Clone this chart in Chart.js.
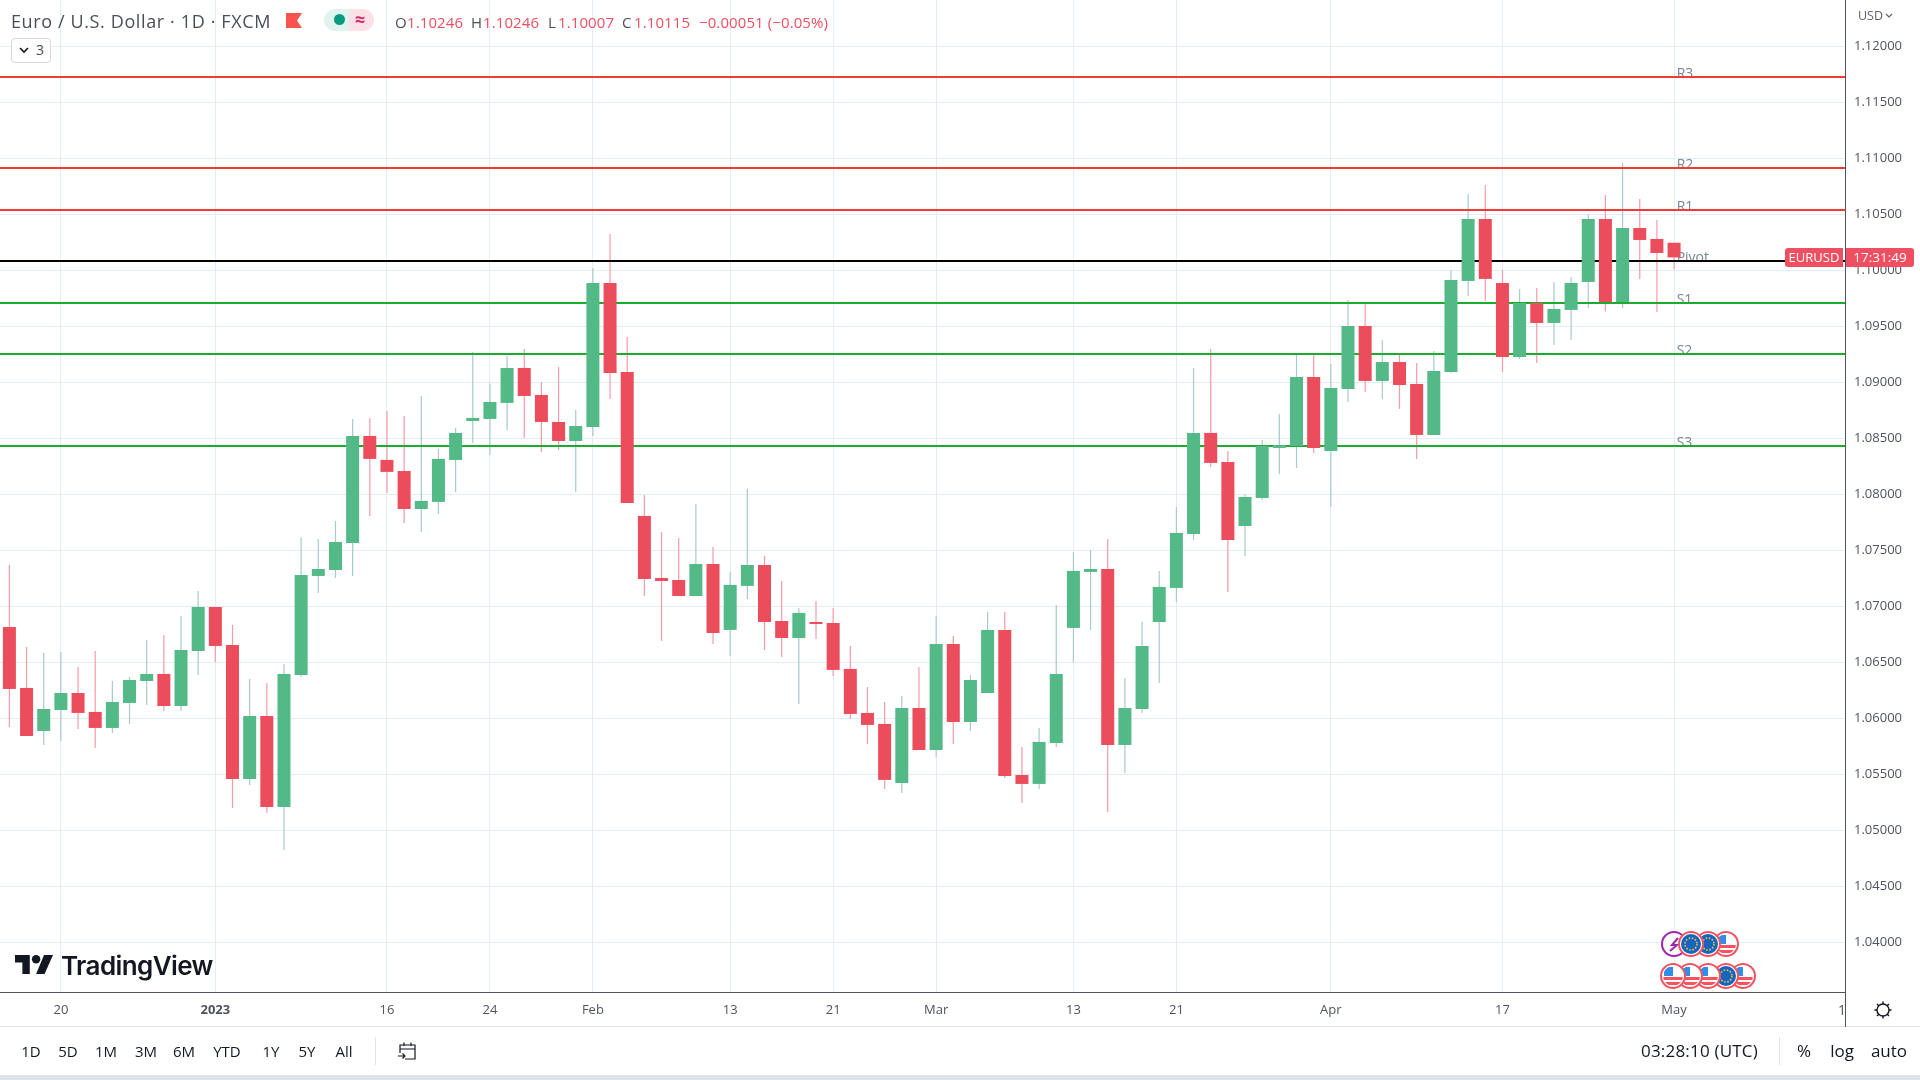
<!DOCTYPE html>
<html>
<head>
<meta charset="utf-8">
<title>EURUSD</title>
<script src="https://cdn.jsdelivr.net/npm/chart.js@4"></script>
<style>
  html, body { margin: 0; padding: 0; background: #fff; overflow: hidden; }
  body { width: 1920px; height: 1080px; position: relative; font-family: "Open Sans", sans-serif; color: #131722; }
  canvas { position: absolute; left: 0; top: 0; }
  .t { position: absolute; white-space: nowrap; line-height: 20px; }
  .c { transform: translateX(-50%); }
  .box { position: absolute; }
  svg { position: absolute; overflow: visible; }
</style>
</head>
<body>
<canvas id="chart" width="1920" height="1026"></canvas>

<!-- legend row -->
<div class="t" style="left:11px;top:11px;font-size:18px;color:#4a4e59;letter-spacing:0.62px">Euro / U.S. Dollar · 1D · FXCM</div>
<svg style="left:286px;top:13px" width="16" height="15"><path d="M0 0H16L11 7.5L16 15H0Z" fill="#f9524f"/></svg>
<div class="box" style="left:324px;top:9px;width:25px;height:22px;background:#e0f3ef;border-radius:11px 0 0 11px"></div>
<div class="box" style="left:349px;top:9px;width:25px;height:22px;background:#fce0e8;border-radius:0 11px 11px 0"></div>
<div class="box" style="left:334px;top:14px;width:11px;height:11px;background:#089981;border-radius:50%"></div>
<div class="t c" style="left:360px;top:9px;font-size:18px;font-weight:700;color:#cc2f6a">≈</div>

<div id="ohlc"></div>

<div class="box" style="left:11px;top:38px;width:38px;height:23px;border:1px solid #d6d8de;border-radius:4px;background:#fff"></div>
<svg style="left:19px;top:47px" width="10" height="7"><path d="M1 1L5 5L9 1" fill="none" stroke="#131722" stroke-width="1.6"/></svg>
<div class="t" style="left:36px;top:40px;font-size:14px;color:#4a4e59">3</div>

<!-- price scale extras -->
<div class="t" style="left:1858px;top:6px;font-size:12.5px;color:#5d606b">USD</div>
<svg style="left:1885px;top:13px" width="8" height="5"><path d="M1 1L4 4L7 1" fill="none" stroke="#5d606b" stroke-width="1.2"/></svg>

<!-- pane borders -->
<div class="box" style="left:1845px;top:0;width:1px;height:1026px;background:#50535e"></div>
<div class="box" style="left:0;top:992px;width:1845px;height:1px;background:#50535e"></div>
<div class="box" style="left:0;top:1026px;width:1920px;height:1px;background:#e0e3eb"></div>
<div class="box" style="left:1845px;top:1026px;width:1px;height:1px;background:#50535e"></div>

<!-- last price label -->
<div class="box" style="left:1785px;top:248px;width:58px;height:19px;background:#ef4f60;border-radius:3px 0 0 3px"></div>
<div class="t c" style="left:1814px;top:248px;font-size:13px;line-height:19px;color:#fff">EURUSD</div>
<div class="box" style="left:1846px;top:248px;width:68px;height:19px;background:#ef4f60;border-radius:0 3px 3px 0"></div>
<div class="t c" style="left:1880px;top:248px;font-size:13.5px;line-height:19px;color:#fff">17:31:49</div>

<!-- clipped time tick at the pane edge -->
<div class="t" style="left:1838px;top:1000px;font-size:14px;color:#50535e">1</div>

<!-- gear -->
<svg style="left:1873px;top:1000px" width="20" height="20" viewBox="0 0 20 20">
  <circle cx="10" cy="10" r="6" fill="none" stroke="#131722" stroke-width="1.4"/>
  <path d="M10 1.5V4M10 16V18.5M1.5 10H4M16 10H18.5M4 4L5.8 5.8M14.2 14.2L16 16M4 16L5.8 14.2M14.2 5.8L16 4" stroke="#131722" stroke-width="1.4"/>
</svg>

<!-- logo -->
<svg style="left:15px;top:955px" width="38" height="19" viewBox="0 0 36 18">
  <path d="M14 18H7V7H0V0H14Z" fill="#131722"/><circle cx="20" cy="4" r="4" fill="#131722"/><path d="M28 18H20L27.5 0H36Z" fill="#131722"/>
</svg>
<div class="t" style="left:61px;top:951px;font-family:Inter,sans-serif;font-size:26px;line-height:30px;font-weight:600;letter-spacing:-0.6px;color:#131722">TradingView</div>

<!-- event flags -->
<svg id="flags" style="left:0;top:0" width="1920" height="1080"></svg>

<!-- bottom toolbar -->
<div id="ranges"></div>
<div class="box" style="left:375px;top:1037px;width:1px;height:28px;background:#e0e3eb"></div>
<svg style="left:397px;top:1041px" width="21" height="20" viewBox="0 0 21 20">
  <path d="M3 12V4H18V18H8M3 8H18M7 1.5V5M14 1.5V5M1 15H8M5.5 12.5L8 15L5.5 17.5" fill="none" stroke="#131722" stroke-width="1.2"/>
</svg>
<div class="t" style="left:1641px;top:1041px;font-size:17px;letter-spacing:0.2px;color:#131722">03:28:10 (UTC)</div>
<div class="box" style="left:1779px;top:1037px;width:1px;height:28px;background:#e0e3eb"></div>
<div class="t c" style="left:1804px;top:1041px;font-size:17px">%</div>
<div class="t c" style="left:1842px;top:1041px;font-size:17px">log</div>
<div class="t c" style="left:1889px;top:1041px;font-size:17px">auto</div>
<div class="box" style="left:0;top:1075px;width:1920px;height:5px;background:#e0e3eb"></div>

<script>
// ========= data =========
const opens = [
  1.06815,1.06271,1.05887,1.06074,1.06226,1.06057,1.05914,1.06137,1.06333,1.06396,
  1.06110,1.06601,1.06994,1.06655,1.05458,1.06021,1.05208,1.06387,1.07271,1.07324,
  1.07566,1.08521,1.08307,1.08208,1.07869,1.07932,1.08307,1.08655,1.08673,1.08816,
  1.09128,1.08887,1.08646,1.08476,1.08601,1.09887,1.09092,1.07807,1.07253,1.07235,
  1.07092,1.07378,1.06789,1.07182,1.07369,1.06869,1.06717,1.06860,1.06851,1.06441,
  1.06048,1.05950,1.05423,1.06092,1.05717,1.06664,1.05967,1.06226,1.06789,1.05494,
  1.05414,1.05780,1.06807,1.07307,1.07333,1.05762,1.06083,1.06860,1.07164,1.07646,
  1.08548,1.08289,1.07717,1.07967,1.08414,1.08432,1.09048,1.08387,1.08940,1.09503,
  1.09012,1.09181,1.08985,1.08530,1.09092,1.09905,1.10458,1.09887,1.09226,1.09708,
  1.09530,1.09646,1.09896,1.10458,1.09717,1.10378,1.10280,1.10246
];
const highs = [
  1.07369,1.06637,1.06583,1.06592,1.06458,1.06601,1.06333,1.06369,1.06699,1.06744,
  1.06914,1.07137,1.06994,1.06833,1.06351,1.06316,1.06485,1.07613,1.07601,1.07762,
  1.08673,1.08682,1.08744,1.08699,1.08878,1.08405,1.08592,1.09271,1.08988,1.09235,
  1.09298,1.09003,1.09137,1.08753,1.10021,1.10324,1.09405,1.07994,1.07664,1.07610,
  1.07914,1.07530,1.07307,1.08048,1.07449,1.07226,1.06985,1.07048,1.06985,1.06646,
  1.06280,1.06146,1.06200,1.06458,1.06914,1.06735,1.06387,1.06949,1.06949,1.05744,
  1.05914,1.07012,1.07485,1.07503,1.07601,1.06360,1.06860,1.07316,1.07887,1.09128,
  1.09298,1.08387,1.08000,1.08485,1.08717,1.09262,1.09262,1.09164,1.09735,1.09699,
  1.09378,1.09244,1.09173,1.09280,1.10003,1.10681,1.10762,1.10003,1.09833,1.09842,
  1.09896,1.09940,1.10500,1.10672,1.10958,1.10637,1.10449,1.10246
];
const lows = [
  1.05923,1.05842,1.05762,1.05798,1.05905,1.05735,1.05869,1.05949,1.06119,1.06066,
  1.06066,1.06387,1.06503,1.05199,1.05405,1.05155,1.04825,1.06369,1.07119,1.07253,
  1.07271,1.07807,1.08012,1.07744,1.07664,1.07825,1.08021,1.08458,1.08351,1.08575,
  1.08503,1.08378,1.08396,1.08021,1.08521,1.08851,1.07923,1.07092,1.06691,1.07092,
  1.07092,1.06664,1.06557,1.07066,1.06610,1.06548,1.06128,1.06708,1.06378,1.05994,
  1.05771,1.05369,1.05333,1.05717,1.05655,1.05771,1.05887,1.06226,1.05467,1.05244,
  1.05369,1.05744,1.06503,1.06789,1.05164,1.05512,1.06048,1.06316,1.07039,1.07592,
  1.08244,1.07128,1.07449,1.07949,1.08182,1.08235,1.08369,1.07887,1.08824,1.08914,
  1.08851,1.08762,1.08315,1.08530,1.09083,1.09771,1.09726,1.09092,1.09208,1.09173,
  1.09333,1.09378,1.09664,1.09637,1.09664,1.09923,1.09628,1.10007
];
const closes = [
  1.06262,1.05842,1.06083,1.06226,1.06048,1.05914,1.06146,1.06342,1.06396,1.06110,
  1.06610,1.06994,1.06646,1.05458,1.06021,1.05208,1.06396,1.07280,1.07333,1.07574,
  1.08521,1.08316,1.08200,1.07869,1.07941,1.08316,1.08548,1.08682,1.08824,1.09128,
  1.08878,1.08646,1.08476,1.08610,1.09887,1.09083,1.07923,1.07244,1.07226,1.07092,
  1.07378,1.06762,1.07191,1.07369,1.06860,1.06717,1.06941,1.06842,1.06432,1.06039,
  1.05941,1.05450,1.06092,1.05717,1.06664,1.05967,1.06342,1.06789,1.05485,1.05414,
  1.05789,1.06396,1.07316,1.07333,1.05762,1.06092,1.06646,1.07173,1.07655,1.08548,
  1.08280,1.07592,1.07976,1.08432,1.08440,1.09048,1.08414,1.08949,1.09503,1.09012,
  1.09181,1.08976,1.08530,1.09101,1.09914,1.10458,1.09923,1.09226,1.09708,1.09530,
  1.09655,1.09887,1.10458,1.09717,1.10378,1.10271,1.10155,1.10115
];

// session number of each labelled date, first session is 15 Dec 2022
const timeTickSessions = [3, 12, 22, 28, 34, 42, 48, 54, 62, 68, 77, 87, 97];
const timeTickLabels = ["20", "2023", "16", "24", "Feb", "13", "21", "Mar", "13", "21", "Apr", "17", "May"];
const priceTicks = [1.04, 1.045, 1.05, 1.055, 1.06, 1.065, 1.07, 1.075, 1.08, 1.085, 1.09, 1.095, 1.10, 1.105, 1.11, 1.115, 1.12];

const levelNames = ["R3", "R2", "R1", "Pivot", "S1", "S2", "S3"];
const levelValues = [1.11726, 1.10913, 1.10538, 1.10083, 1.09708, 1.09253, 1.08431];
const levelColors = ["#f23b32", "#f23b32", "#f23b32", "#000000", "#1cab2c", "#1cab2c", "#1cab2c"];

// visible window of the panes
const xMin = -0.548, xMax = 106.96;
const yMin = 1.035563, yMax = 1.124134;

// ========= legend and toolbar text =========
const ohlcParts = [
  ["O", 395, "#4a4e59"], ["1.10246", 407, "#ef4f60"],
  ["H", 471, "#4a4e59"], ["1.10246", 483, "#ef4f60"],
  ["L", 548, "#4a4e59"], ["1.10007", 558, "#ef4f60"],
  ["C", 622, "#4a4e59"], ["1.10115", 634, "#ef4f60"],
  ["−0.00051 (−0.05%)", 699, "#ef4f60"]
];
const rangeButtons = [["1D", 31], ["5D", 68], ["1M", 106], ["3M", 146], ["6M", 184], ["YTD", 227], ["1Y", 271], ["5Y", 307], ["All", 344]];

const elOhlc = document.getElementById("ohlc");
ohlcParts.forEach(([txt, left, color]) => {
  const d = document.createElement("div");
  d.className = "t";
  d.style.cssText = `left:${left}px;top:12px;font-size:15px;letter-spacing:0.1px;color:${color}`;
  d.textContent = txt;
  elOhlc.appendChild(d);
});
const elRanges = document.getElementById("ranges");
rangeButtons.forEach(([txt, left]) => {
  const d = document.createElement("div");
  d.className = "t c";
  d.style.cssText = `left:${left}px;top:1041px;font-size:15px;color:#131722`;
  d.textContent = txt;
  elRanges.appendChild(d);
});

// ========= event flags =========
function usFlag(cx, cy) {
  let s = `<circle cx="${cx}" cy="${cy}" r="12" fill="#fff"/>`;
  s += `<clipPath id="u${cx}${cy}"><circle cx="${cx}" cy="${cy}" r="10"/></clipPath><g clip-path="url(#u${cx}${cy})">`;
  s += `<rect x="${cx - 10}" y="${cy + 1}" width="20" height="3" fill="#f7525f"/><rect x="${cx - 10}" y="${cy + 6}" width="20" height="3" fill="#f7525f"/>`;
  s += `<rect x="${cx - 9}" y="${cy - 9}" width="9" height="9" fill="#2e8fe8"/></g>`;
  s += `<circle cx="${cx}" cy="${cy}" r="12" fill="none" stroke="#f2555f" stroke-width="2"/>`;
  return s;
}
function euFlag(cx, cy) {
  let s = `<circle cx="${cx}" cy="${cy}" r="12" fill="#fff"/><circle cx="${cx}" cy="${cy}" r="10" fill="#1565c0"/>`;
  s += `<circle cx="${cx}" cy="${cy}" r="6" fill="none" stroke="#e8c53a" stroke-width="1.6" stroke-dasharray="1.6 1.54"/>`;
  s += `<circle cx="${cx}" cy="${cy}" r="12" fill="none" stroke="#f2555f" stroke-width="2"/>`;
  return s;
}
let flagSvg = `<circle cx="1674" cy="944" r="12" fill="#fff" stroke="#9c27b0" stroke-width="2"/><path d="M1678 938L1672 945H1677L1670 951" fill="none" stroke="#9c27b0" stroke-width="2"/>`;
flagSvg += usFlag(1726, 944) + euFlag(1708, 944) + euFlag(1691, 944);
flagSvg += usFlag(1743, 976) + euFlag(1726, 976) + usFlag(1708, 976) + usFlag(1690, 976) + usFlag(1673, 976);
document.getElementById("flags").innerHTML = flagSvg;

// ========= chart =========
const upColor = "#53b987", downColor = "#eb4d5c";
const upWick = "#a6cbca", downWick = "#f59ba8";
const isUp = i => closes[i] >= opens[i];

const levelLabelPlugin = {
  id: "levelLabels",
  beforeDatasetsDraw(chart) {
    const { ctx, scales } = chart;
    ctx.save();
    ctx.font = '14px "Open Sans"';
    ctx.fillStyle = "#76879a";
    ctx.textBaseline = "alphabetic";
    levelNames.forEach((name, i) => {
      ctx.fillText(name, scales.x.getPixelForValue(97.15), scales.y.getPixelForValue(levelValues[i]) + 1);
    });
    ctx.restore();
  }
};

const levelDatasets = levelNames.map((name, i) => ({
  type: "line",
  label: name,
  data: [{ x: xMin, y: levelValues[i] }, { x: xMax, y: levelValues[i] }],
  borderColor: levelColors[i],
  borderWidth: 2,
  pointRadius: 0,
  order: 1
}));

// tick label overhang must not shrink the pane
function dropPadding(scale) {
  scale.paddingTop = 0;
  scale.paddingBottom = 0;
  scale.paddingLeft = 0;
  scale.paddingRight = 0;
}

new Chart(document.getElementById("chart"), {
  type: "bar",
  data: {
    datasets: [
      {
        label: "body",
        data: opens.map((o, i) => ({ x: i, y: [o, closes[i]] })),
        backgroundColor: opens.map((o, i) => isUp(i) ? upColor : downColor),
        barThickness: 13,
        inflateAmount: 0,
        grouped: false,
        order: 0
      },
      {
        label: "wick",
        data: lows.map((l, i) => ({ x: i, y: [l, highs[i]] })),
        backgroundColor: lows.map((l, i) => isUp(i) ? upWick : downWick),
        barThickness: 1.2,
        inflateAmount: 0,
        grouped: false,
        order: 2
      },
      ...levelDatasets
    ]
  },
  options: {
    responsive: false,
    animation: false,
    devicePixelRatio: 1,
    layout: { padding: 0 },
    plugins: { legend: { display: false }, tooltip: { enabled: false } },
    scales: {
      x: {
        type: "linear",
        min: xMin,
        max: xMax,
        offset: false,
        border: { display: false },
        grid: { offset: false, color: "#e4edf4", lineWidth: 1, drawTicks: false },
        afterBuildTicks: scale => { scale.ticks = timeTickSessions.map(v => ({ value: v })); },
        afterFit: scale => { scale.height = 34; dropPadding(scale); },
        ticks: {
          autoSkip: false,
          maxRotation: 0,
          padding: 10,
          color: "#50535e",
          font: ctx => ({ family: '"Open Sans"', size: 13, weight: timeTickLabels[ctx.index] === "2023" ? "bold" : "normal" }),
          callback: (v, idx) => timeTickLabels[idx]
        }
      },
      y: {
        position: "right",
        min: yMin,
        max: yMax,
        border: { display: false },
        grid: { color: "#e4edf4", lineWidth: 1, drawTicks: false },
        afterBuildTicks: scale => { scale.ticks = priceTicks.map(v => ({ value: v })); },
        afterFit: scale => { scale.width = 75; dropPadding(scale); },
        ticks: {
          autoSkip: false,
          padding: 9,
          color: "#50535e",
          font: { family: '"Open Sans"', size: 13 },
          callback: v => v.toFixed(5)
        }
      }
    }
  },
  plugins: [levelLabelPlugin]
});
</script>
</body>
</html>
